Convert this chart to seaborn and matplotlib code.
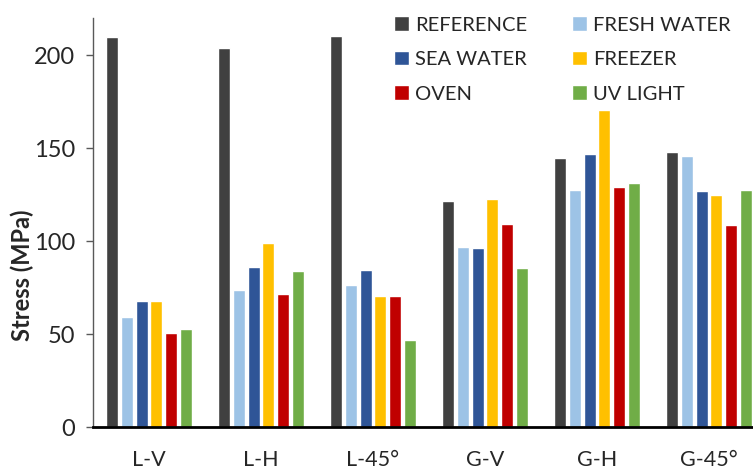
import matplotlib as mpl
import matplotlib.pyplot as plt
import pandas as pd
import seaborn as sns

# Data
groups = ['L-V', 'L-H', 'L-45°', 'G-V', 'G-H', 'G-45°']
conditions = ['REFERENCE', 'FRESH WATER', 'SEA WATER', 'FREEZER', 'OVEN', 'UV LIGHT']
reference = [209.8, 203.6, 210.2, 121.4, 144.6, 148.0]
fresh_water = [58.9, 73.9, 76.2, 96.7, 127.4, 145.7]
sea_water = [67.6, 85.9, 84.6, 96.2, 147.1, 126.8]
freezer = [67.6, 99.0, 70.3, 122.5, 170.6, 124.7]
oven = [50.8, 71.4, 70.3, 109.4, 129.3, 108.4]
uv_light = [52.6, 84.0, 46.7, 85.6, 131.1, 127.4]
colors = ['#404040', '#9DC3E6', '#2F5597', '#FFC000', '#C00000', '#70AD47']

series = [reference, fresh_water, sea_water, freezer, oven, uv_light]
rows = []
for cond, vals in zip(conditions, series):
    for g, v in zip(groups, vals):
        rows.append({'Sample': g, 'Condition': cond, 'Stress': v})
df = pd.DataFrame(rows)

sns.set_style('white')
mpl.rcParams['font.family'] = ['Lato', 'DejaVu Sans']
mpl.rcParams['font.size'] = 16

fig = plt.figure(figsize=(7.53, 4.71), dpi=100)
ax = fig.add_axes([93 / 753, 44 / 471, 672 / 753, 409 / 471])

sns.barplot(df, x='Sample', y='Stress', hue='Condition', order=groups,
            hue_order=conditions, palette=colors, saturation=1, width=0.79,
            gap=0.2, ax=ax, legend=True)

ax.set_xlim(-0.5, 5.5)
ax.set_ylim(0, 220)
ax.set_yticks([0, 50, 100, 150, 200])
ax.set_xlabel('')
ax.set_ylabel('Stress (MPa)', fontweight='bold', fontsize=17)
ax.yaxis.set_label_coords(-0.088, 0.37)

for side in ['top', 'right']:
    ax.spines[side].set_visible(False)
ax.spines['left'].set_color('#595959')
ax.spines['left'].set_linewidth(1.0)
ax.spines['bottom'].set_color('black')
ax.spines['bottom'].set_linewidth(2.0)
ax.tick_params(axis='y', left=True, length=5, width=1, color='#595959', labelsize=17, pad=8)
ax.tick_params(axis='x', bottom=False, labelsize=15.5, pad=13)

handles, labels = ax.get_legend_handles_labels()
order = [0, 2, 4, 1, 3, 5]
ax.legend([handles[i] for i in order], [labels[i] for i in order], ncol=2,
          frameon=False, loc='upper left', bbox_to_anchor=(376 / 753, 1 + 2 / 471),
          bbox_transform=fig.transFigure, fontsize=14.5, handlelength=0.75,
          handleheight=0.75, handletextpad=0.3, columnspacing=2.2, labelspacing=0.85)

fig.savefig('out.png', dpi=100)
